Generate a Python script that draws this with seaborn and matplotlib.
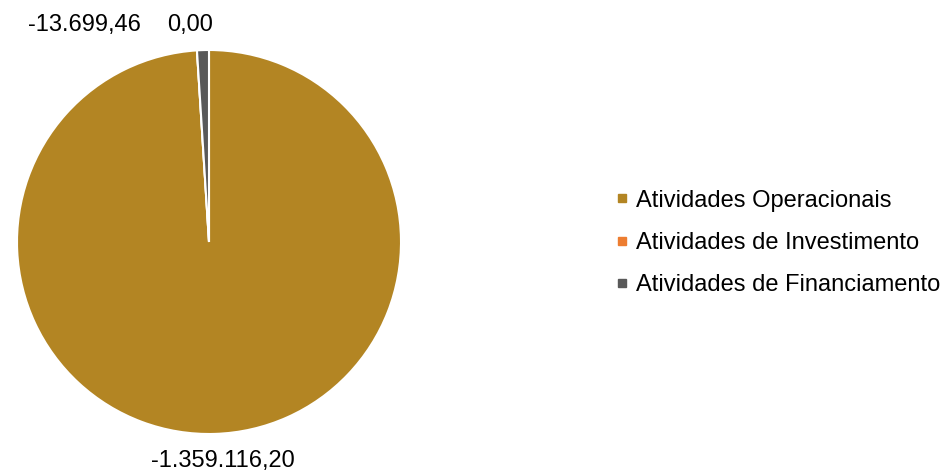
import matplotlib
matplotlib.use("Agg")
import matplotlib.pyplot as plt
from matplotlib.lines import Line2D
import seaborn as sns

categories = ["Atividades Operacionais", "Atividades de Investimento", "Atividades de Financiamento"]
values = [-1359116.20, 0.00, -13699.46]
value_labels = ["-1.359.116,20", "0,00", "-13.699,46"]
colors = ["#B38523", "#ED7D31", "#595959"]

sns.set_theme(style="white")
plt.rcParams["font.family"] = ["Liberation Sans", "DejaVu Sans"]
plt.rcParams["text.color"] = "#000000"

W, H = 944, 473
fig = plt.figure(figsize=(W / 100, H / 100), dpi=100)
cx, cy, r = 209, 242, 192
ax = fig.add_axes([(cx - r) / W, (H - cy - r) / H, 2 * r / W, 2 * r / H])

sizes = [abs(v) for v in values]
wedges, _ = ax.pie(sizes, colors=colors, startangle=90, counterclock=False,
                   radius=1.0, wedgeprops=dict(edgecolor="white", linewidth=1.5))
ax.set_xlim(-1, 1)
ax.set_ylim(-1, 1)
ax.set_aspect("equal")
ax.axis("off")

# data label positions (axes-data coords, radius = 1)
label_pos = [(0.073, -1.141), (-0.099, 1.130), (-0.651, 1.130)]
for (x, y), lab in zip(label_pos, value_labels):
    ax.text(x, y, lab, ha="center", va="center", fontsize=17, color="#000000",
            clip_on=False)

handles = [Line2D([0], [0], marker="s", linestyle="none", markersize=6,
                  markerfacecolor=c, markeredgecolor=c) for c in colors]
leg = fig.legend(handles, categories, loc="center left", bbox_to_anchor=(616 / W, 1 - 243 / H),
                 frameon=False, fontsize=17, handlelength=0.5, handletextpad=0.35,
                 labelspacing=0.86, borderpad=0, borderaxespad=0)
for t in leg.get_texts():
    t.set_color("#000000")

fig.savefig("out.png", dpi=100, facecolor="white")
